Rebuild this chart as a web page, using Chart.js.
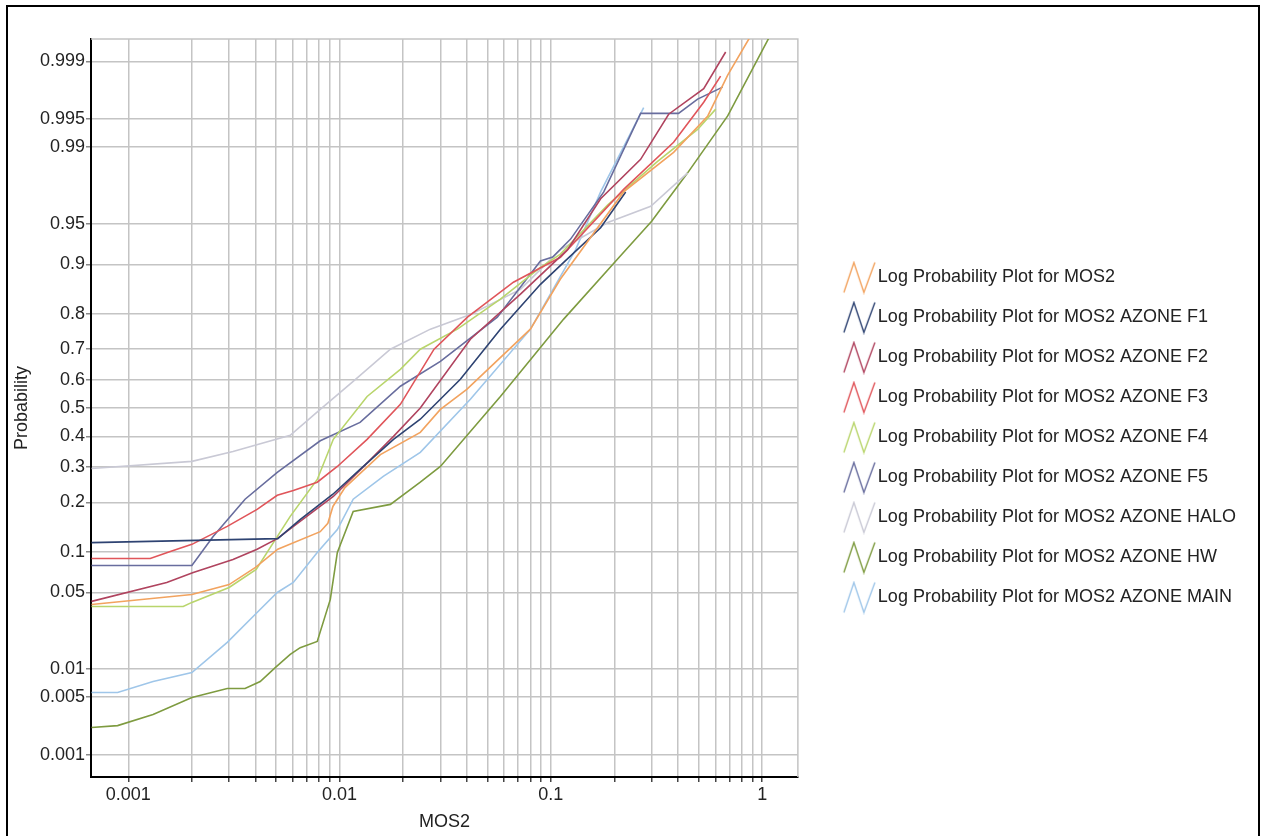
<!DOCTYPE html>
<html>
<head>
<meta charset="utf-8">
<script src="https://cdn.jsdelivr.net/npm/chart.js@4.4.1/dist/chart.umd.min.js"></script>
<style>
html,body{margin:0;padding:0;background:#fff;}
#wrap{position:relative;width:1265px;height:836px;overflow:hidden;}
#chart{position:absolute;left:0;top:0;}
#frame{position:absolute;left:6px;top:5px;width:1250px;height:900px;border:2px solid #000;pointer-events:none;}
</style>
</head>
<body>
<div id="wrap"><canvas id="chart" width="1265" height="836"></canvas><div id="frame"></div></div>
<script>
// -------- Data --------
const seriesNames = [
  "Log Probability Plot for MOS2",
  "Log Probability Plot for MOS2 AZONE F1",
  "Log Probability Plot for MOS2 AZONE F2",
  "Log Probability Plot for MOS2 AZONE F3",
  "Log Probability Plot for MOS2 AZONE F4",
  "Log Probability Plot for MOS2 AZONE F5",
  "Log Probability Plot for MOS2 AZONE HALO",
  "Log Probability Plot for MOS2 AZONE HW",
  "Log Probability Plot for MOS2 AZONE MAIN"
];
const seriesColors = ["#f2a35f","#2e4372","#b0445f","#e0555a","#b9d56c","#686d9e","#c9c9d5","#7e9b40","#9fc6e9"];

const xMos2 = [0.00067,0.002,0.003,0.004,0.0051,0.0081,0.0088,0.0093,0.0106,0.0156,0.0241,0.030,0.040,0.080,0.111,0.221,0.381,0.553,0.687,0.865,0.98];
const pMos2 = [0.0399,0.0482,0.0577,0.0775,0.104,0.135,0.152,0.190,0.239,0.339,0.414,0.495,0.566,0.759,0.875,0.973,0.9887,0.9954,0.9985,0.9995,0.9997];

const xF1 = [0.00067,0.0051,0.0065,0.0093,0.0125,0.018,0.0241,0.0373,0.0577,0.0893,0.115,0.172,0.226];
const pF1 = [0.115,0.122,0.160,0.221,0.292,0.390,0.460,0.601,0.759,0.865,0.903,0.946,0.973];

const xF2 = [0.00067,0.00152,0.00203,0.00313,0.00407,0.00507,0.00934,0.0125,0.018,0.0241,0.0416,0.0718,0.120,0.172,0.266,0.361,0.529,0.672];
const pF2 = [0.0423,0.0599,0.0712,0.0884,0.104,0.122,0.215,0.29,0.40,0.50,0.730,0.845,0.921,0.969,0.9867,0.9956,0.9978,0.99925];

const xF3 = [0.00067,0.00127,0.00158,0.002,0.00294,0.00407,0.00507,0.00604,0.00784,0.00976,0.0135,0.0194,0.028,0.0403,0.0665,0.111,0.221,0.381,0.529,0.636];
const pF3 = [0.0898,0.0898,0.1005,0.112,0.1455,0.183,0.218,0.231,0.254,0.301,0.390,0.513,0.700,0.791,0.869,0.9105,0.9744,0.9911,0.9968,0.99846];

const xF4 = [0.00067,0.00182,0.002,0.003,0.00403,0.00584,0.00784,0.00934,0.0135,0.0194,0.0241,0.0361,0.0577,0.0893,0.111,0.186,0.320,0.495,0.603];
const pF4 = [0.0384,0.0384,0.0415,0.0548,0.0749,0.167,0.262,0.390,0.541,0.635,0.700,0.759,0.834,0.895,0.915,0.965,0.9861,0.9935,0.99615];

const xF5 = [0.00067,0.002,0.00252,0.00357,0.00507,0.0081,0.0125,0.0194,0.030,0.0558,0.0893,0.102,0.124,0.178,0.266,0.402,0.495,0.650];
const pF5 = [0.0801,0.0801,0.126,0.208,0.283,0.385,0.449,0.577,0.661,0.791,0.905,0.911,0.934,0.973,0.9957,0.9957,0.99706,0.99789];

const xHalo = [0.00067,0.002,0.00313,0.00584,0.0081,0.0116,0.0174,0.0269,0.0416,0.0718,0.111,0.186,0.297,0.444];
const pHalo = [0.295,0.317,0.349,0.404,0.495,0.594,0.700,0.759,0.798,0.855,0.921,0.951,0.964,0.982];

const xHw = [0.00067,0.00089,0.00131,0.002,0.00294,0.00357,0.00421,0.00496,0.00584,0.00651,0.00784,0.00904,0.00976,0.0116,0.0174,0.0241,0.030,0.0577,0.115,0.207,0.300,0.444,0.687,1.086];
const pHw = [0.00219,0.00231,0.00313,0.00491,0.00618,0.00618,0.00736,0.0103,0.0140,0.0163,0.0187,0.0439,0.0989,0.178,0.195,0.254,0.301,0.541,0.786,0.908,0.952,0.982,0.9954,0.99954];

const xMain = [0.00067,0.00089,0.00131,0.002,0.00294,0.00407,0.00507,0.00604,0.00784,0.00976,0.0116,0.0161,0.0241,0.0416,0.0801,0.131,0.172,0.275];
const pMain = [0.00559,0.00559,0.00736,0.00916,0.0183,0.0341,0.050,0.0599,0.0989,0.139,0.208,0.271,0.346,0.531,0.759,0.921,0.973,0.9963];

const seriesX = [xMos2,xF1,xF2,xF3,xF4,xF5,xHalo,xHw,xMain];
const seriesP = [pMos2,pF1,pF2,pF3,pF4,pF5,pHalo,pHw,pMain];

// axis ticks
const xMajorTicks = [0.001, 0.01, 0.1, 1];
const probTicks = [0.001,0.005,0.01,0.05,0.1,0.2,0.3,0.4,0.5,0.6,0.7,0.8,0.9,0.95,0.99,0.995,0.999];
const X_MIN = 0.000666, X_MAX = 1.476;
const P_MIN = 0.0005, P_MAX = 0.9995;

// -------- Normal quantile helpers --------
function normInv(p){
  const a=[-3.969683028665376e+01,2.209460984245205e+02,-2.759285104469687e+02,1.383577518672690e+02,-3.066479806614716e+01,2.506628277459239e+00];
  const b=[-5.447609879822406e+01,1.615858368580409e+02,-1.556989798598866e+02,6.680131188771972e+01,-1.328068155288572e+01];
  const c=[-7.784894002430293e-03,-3.223964580411365e-01,-2.400758277161838e+00,-2.549732539343734e+00,4.374664141464968e+00,2.938163982698783e+00];
  const d=[7.784695709041462e-03,3.224671290700398e-01,2.445134137142996e+00,3.754408661907416e+00];
  const lo=0.02425;
  if(p<lo){
    const q=Math.sqrt(-2*Math.log(p));
    return (((((c[0]*q+c[1])*q+c[2])*q+c[3])*q+c[4])*q+c[5])/((((d[0]*q+d[1])*q+d[2])*q+d[3])*q+1);
  }
  if(p>1-lo){
    const q=Math.sqrt(-2*Math.log(1-p));
    return -(((((c[0]*q+c[1])*q+c[2])*q+c[3])*q+c[4])*q+c[5])/((((d[0]*q+d[1])*q+d[2])*q+d[3])*q+1);
  }
  const q=p-0.5, r=q*q;
  return (((((a[0]*r+a[1])*r+a[2])*r+a[3])*r+a[4])*r+a[5])*q/(((((b[0]*r+b[1])*r+b[2])*r+b[3])*r+b[4])*r+1);
}
function normCdf(z){
  const t=1/(1+0.3275911*Math.abs(z)/Math.SQRT2);
  const e=1-(((((1.061405429*t-1.453152027)*t)+1.421413741)*t-0.284496736)*t+0.254829592)*t*Math.exp(-z*z/2);
  return z>=0 ? (1+e)/2 : (1-e)/2;
}

// -------- Probability scale --------
class ProbabilityScale extends Chart.Scale {
  static id = "probability";
  static defaults = {};
  determineDataLimits(){
    this.min = this.options.min;
    this.max = this.options.max;
  }
  buildTicks(){
    return probTicks.map(v => ({value: v}));
  }
  configure(){
    super.configure();
    this._zStart = normInv(this.min);
    this._zRange = normInv(this.max) - this._zStart;
  }
  getLabelForValue(v){ return String(v); }
  getPixelForTick(i){
    const t = this.ticks[i];
    return t ? this.getPixelForValue(t.value) : null;
  }
  getPixelForValue(v){
    if (v === null || v === undefined || isNaN(v)) return NaN;
    return this.getPixelForDecimal((normInv(v) - this._zStart) / this._zRange);
  }
  getValueForPixel(px){
    return normCdf(this._zStart + this.getDecimalForPixel(px) * this._zRange);
  }
}
Chart.register(ProbabilityScale);

// zigzag legend marker
function zigzag(color){
  const c = document.createElement("canvas");
  c.width = 34; c.height = 34;
  const g = c.getContext("2d");
  g.strokeStyle = color; g.lineWidth = 1.4;
  g.beginPath();
  g.moveTo(2,32); g.lineTo(12,2); g.lineTo(22,32); g.lineTo(33,2);
  g.stroke();
  return c;
}

// top + right border of the plot box
const plotFrame = {
  id: "plotFrame",
  beforeDatasetsDraw(chart){
    const {ctx, chartArea: a} = chart;
    ctx.save();
    ctx.strokeStyle = "#c4c4c4";
    ctx.lineWidth = 1.5;
    ctx.beginPath();
    ctx.moveTo(a.left, a.top); ctx.lineTo(a.right, a.top); ctx.lineTo(a.right, a.bottom);
    ctx.stroke();
    ctx.restore();
  }
};

const xGridTicks = xMajorTicks.flatMap(m => m === 1 ? [1] : [1,2,3,4,5,6,7,8,9].map(k => +(m*k).toPrecision(2)));

Chart.defaults.font.family = "'Liberation Sans', Arial, sans-serif";
Chart.defaults.font.size = 18;
Chart.defaults.color = "#222";

new Chart(document.getElementById("chart"), {
  type: "line",
  data: {
    datasets: seriesNames.map((name, i) => ({
      label: name,
      data: seriesX[i].map((x, j) => ({x, y: seriesP[i][j]})),
      borderColor: seriesColors[i],
      backgroundColor: seriesColors[i],
      borderWidth: 1.6,
      pointRadius: 0,
      tension: 0,
      fill: false
    }))
  },
  options: {
    responsive: false,
    animation: false,
    events: [],
    layout: {padding: {top: 39, left: 8, right: 19, bottom: 0}},
    scales: {
      x: {
        type: "logarithmic",
        min: X_MIN, max: X_MAX,
        afterBuildTicks: s => { s.ticks = xGridTicks.map(v => ({value: v})); },
        afterFit: s => { s.height = 59; },
        ticks: {autoSkip: false, maxRotation: 0, padding: 2, callback: v => xMajorTicks.includes(v) ? String(v) : ""},
        grid: {color: "#c4c4c4", lineWidth: 1.5, tickLength: 5, tickColor: "#444"},
        border: {color: "#000", width: 2},
        title: {display: true, text: "MOS2", padding: {top: 4, bottom: 3}}
      },
      y: {
        type: "probability",
        min: P_MIN, max: P_MAX,
        afterFit: s => { s.width = 83; },
        ticks: {padding: 1, callback: v => String(v)},
        grid: {color: "#c4c4c4", lineWidth: 1.5, tickLength: 5, tickColor: "#888"},
        border: {color: "#000", width: 2},
        title: {display: true, text: "Probability", padding: {top: 3, bottom: 0}}
      },
      gap: {
        type: "linear", position: "right", display: true,
        afterFit: s => { s.width = 29; },
        grid: {display: false, drawTicks: false},
        ticks: {display: false},
        border: {display: false}
      }
    },
    plugins: {
      tooltip: {enabled: false},
      legend: {
        position: "right",
        align: "center",
        maxWidth: 600,
        labels: {
          usePointStyle: true,
          pointStyleWidth: 20,
          padding: 22,
          generateLabels: chart => chart.data.datasets.map((ds, i) => ({
            text: ds.label,
            fillStyle: ds.borderColor,
            strokeStyle: ds.borderColor,
            lineWidth: 0,
            pointStyle: zigzag(ds.borderColor),
            fontColor: "#222",
            hidden: false,
            datasetIndex: i
          }))
        }
      }
    }
  },
  plugins: [plotFrame]
});
</script>
</body>
</html>
